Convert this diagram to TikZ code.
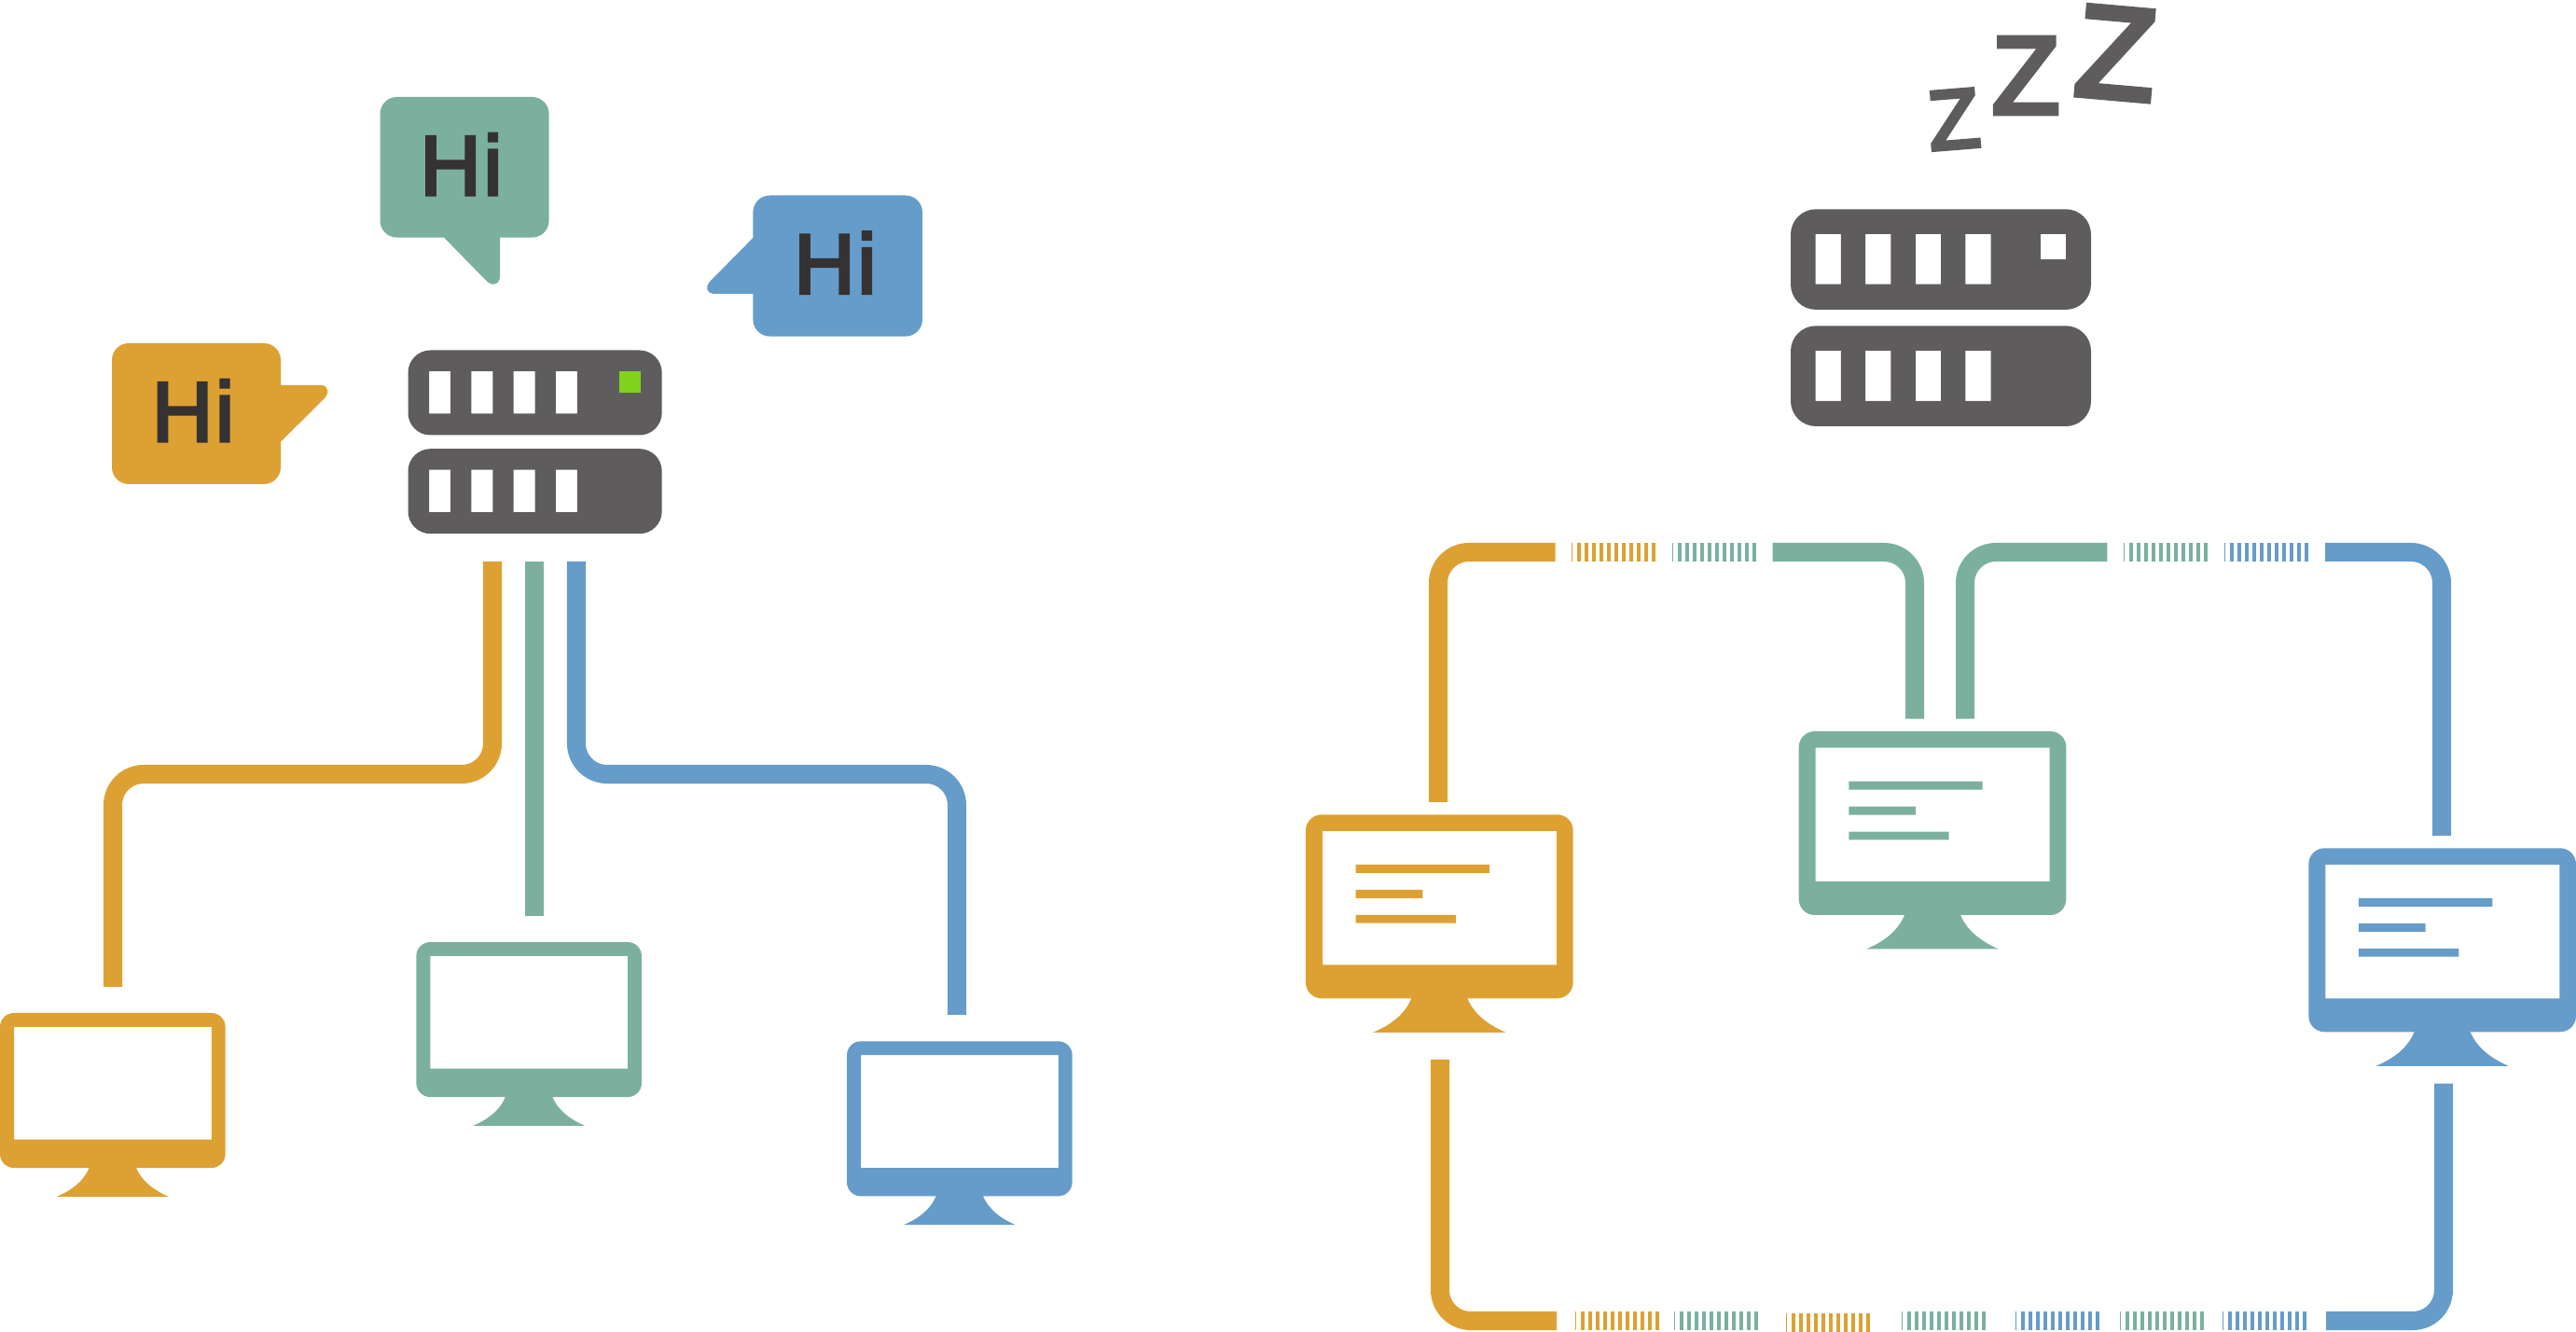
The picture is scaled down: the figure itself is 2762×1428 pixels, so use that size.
\documentclass[tikz,border=0pt]{standalone}
\usepackage{fontspec}
\setmainfont{Liberation Sans}
\newfontfamily\boldishfont[FakeBold=3.6,LetterSpace=3]{Liberation Sans}
\newfontfamily\zedfont[FakeBold=5]{Liberation Sans}
\definecolor{cOrange}{HTML}{DDA133}
\definecolor{cGreen}{HTML}{7BB09F}
\definecolor{cBlue}{HTML}{669CC9}
\definecolor{cDark}{HTML}{5E5C5D}
\definecolor{cInk}{HTML}{353233}
\definecolor{cLamp}{HTML}{80D21E}
\tikzset{
  wire/.style={line width=0.2cm,rounded corners=0.33cm,line cap=butt},
  hitext/.style={inner sep=0pt,anchor=base,text=cInk,font=\boldishfont\fontsize{25.8pt}{26pt}\selectfont},
  zzz/.style={inner sep=0pt,text=cDark},
}
% colour, x, y, scale, corner radius
\newcommand\monitorpic[5]{%
  \begin{scope}[shift={(#2,#3)},scale=#4]
    \fill[#1,even odd rule,rounded corners=#5] (0,0) rectangle (286.7,197)
      [sharp corners] (18,17.7) rectangle (269,161);
    \fill[#1] (113.3,190) -- (113.3,197) .. controls (106,215) and (90,226) .. (72.3,233.5)
      -- (214.3,233.5) .. controls (197,226) and (181,215) .. (173.3,197) -- (173.3,190) -- cycle;
  \end{scope}}
% colour, x, y
\newcommand\monitorlines[3]{%
  \begin{scope}[shift={(#2,#3)}]
    \fill[#1] (53.7,53.7) rectangle (197,62.7)
      (53.7,80.7) rectangle (125.3,89.7)
      (53.7,107.7) rectangle (161,116.4);
  \end{scope}}
% x, y, scale, corner radius, lamp colour
\newcommand\serverpic[5]{%
  \begin{scope}[shift={(#1,#2)},scale=#3]
    \fill[cDark,even odd rule,rounded corners=#4] (0,0) rectangle (272.2,91)
      [sharp corners] (22.5,22.5) rectangle (45.5,68)
      (67.8,22.5) rectangle (90.8,68)
      (113.1,22.5) rectangle (136.1,68)
      (158.4,22.5) rectangle (181.4,68);
    \fill[cDark,even odd rule,rounded corners=#4] (0,105.7) rectangle (272.2,196.7)
      [sharp corners] (22.5,128.2) rectangle (45.5,173.7)
      (67.8,128.2) rectangle (90.8,173.7)
      (113.1,128.2) rectangle (136.1,173.7)
      (158.4,128.2) rectangle (181.4,173.7);
    \fill[#5] (226.5,22.5) rectangle (249.5,45.5);
  \end{scope}}
% colour, x, centre y
\newcommand\hatchbar[3]{%
  \fill[#1] ({#2},{#3-10}) rectangle ({#2+1.2},{#3+10});
  \draw[#1,line width=0.2cm,dash pattern=on 0.04cm off 0.04cm] ({#2+6},#3) -- ({#2+90},#3);}
\begin{document}
\begin{tikzpicture}[x=0.01cm,y=-0.01cm]
\useasboundingbox (0,0) rectangle (2762,1428);

% speech bubbles
\fill[cGreen,rounded corners=0.18cm] (407.5,104) rectangle (588.6,254.6);
\fill[cGreen] (476,254.6) -- (521.5,301) .. controls (526,306.5) and (536,306.5) .. (536,296)
  -- (536,240) -- (476,240) -- cycle;
\fill[cBlue,rounded corners=0.18cm] (807.4,209.5) rectangle (989,360.6);
\fill[cBlue] (807.4,255) -- (761,302) .. controls (756,308) and (757,315) .. (767,315)
  -- (820,315) -- (820,255) -- cycle;
\fill[cOrange,rounded corners=0.18cm] (120,368) rectangle (301,519);
\fill[cOrange] (301,413) -- (344,413) .. controls (352,413) and (353,421) .. (349,426)
  -- (301,473.6) -- (290,473.6) -- (290,413) -- cycle;
\node[hitext] (higreen) at (494.5,209) {Hi};
\node[hitext] (hiblue) at (895.5,314.5) {Hi};
\node[hitext] (hiorange) at (207,473) {Hi};

% servers
\serverpic{437.5}{375.5}{1}{0.24cm}{cLamp}
\serverpic{1920}{224.3}{1.183}{0.27cm}{white}

% sleeping letters
\node[zzz,rotate=4.6,font=\zedfont\fontsize{25.5pt}{26pt}\selectfont] (zsmall) at (2095,128) {Z};
\node[zzz,font=\zedfont\fontsize{33.5pt}{34pt}\selectfont] (zmiddle) at (2172,81) {Z};
\node[zzz,rotate=-5,font=\zedfont\fontsize{39.5pt}{41pt}\selectfont] (zlarge) at (2269,57) {Z};

% monitors, left
\monitorpic{cOrange}{0}{1086}{0.843}{0.15cm}
\monitorpic{cGreen}{446.3}{1010}{0.843}{0.15cm}
\monitorpic{cBlue}{908}{1116.3}{0.843}{0.15cm}
% monitors, right
\monitorpic{cOrange}{1400}{873.3}{1}{0.17cm}
\monitorlines{cOrange}{1400}{873.3}
\monitorpic{cGreen}{1928.7}{784}{1}{0.17cm}
\monitorlines{cGreen}{1928.7}{784}
\monitorpic{cBlue}{2475.3}{909.3}{1}{0.17cm}
\monitorlines{cBlue}{2475.3}{909.3}

% connector ends, left
\coordinate (lo1) at (528,602);
\coordinate (lo2) at (121,1058);
\coordinate (lg1) at (573,602);
\coordinate (lg2) at (573,981.7);
\coordinate (lb1) at (618,602);
\coordinate (lb2) at (1026,1088);
\draw[wire,cOrange] (lo1) |- (121,830) -- (lo2);
\draw[wire,cGreen] (lg1) -- (lg2);
\draw[wire,cBlue] (lb1) |- (1026,830) -- (lb2);

% connector ends, right
\coordinate (ro1) at (1542,860);
\coordinate (ro2) at (1667.5,592);
\coordinate (rg1) at (1900.6,592);
\coordinate (rg2) at (2053,770.7);
\coordinate (rg3) at (2107,770.7);
\coordinate (rg4) at (2259.3,592);
\coordinate (rb1) at (2493,592);
\coordinate (rb2) at (2618,896);
\coordinate (ro3) at (1544,1136);
\coordinate (ro4) at (1669,1416);
\coordinate (rb3) at (2494,1416);
\coordinate (rb4) at (2620,1161.7);
\draw[wire,cOrange] (ro1) |- (ro2);
\draw[wire,cGreen] (rg1) -| (rg2);
\draw[wire,cGreen] (rg3) |- (rg4);
\draw[wire,cBlue] (rb1) -| (rb2);
\draw[wire,cOrange] (ro3) |- (ro4);
\draw[wire,cBlue] (rb3) -| (rb4);

% interrupted stretches
\hatchbar{cOrange}{1685}{592}
\hatchbar{cGreen}{1793}{592}
\hatchbar{cGreen}{2277}{592}
\hatchbar{cBlue}{2385}{592}
\hatchbar{cOrange}{1689}{1416}
\hatchbar{cGreen}{1795}{1416}
\hatchbar{cOrange}{1915}{1418}
\hatchbar{cGreen}{2039}{1416}
\hatchbar{cBlue}{2161}{1416}
\hatchbar{cGreen}{2273}{1416}
\hatchbar{cBlue}{2383}{1416}
\end{tikzpicture}
\end{document}
